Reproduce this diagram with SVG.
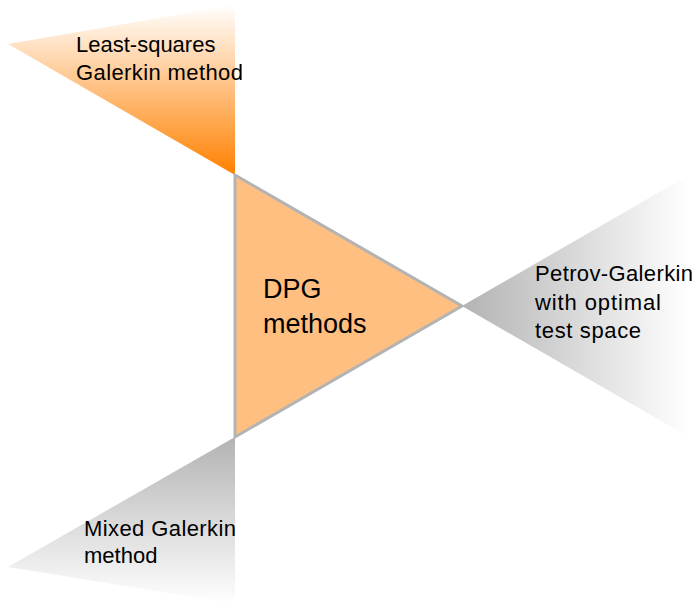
<svg xmlns="http://www.w3.org/2000/svg" width="696" height="602" viewBox="0 0 696 602">
  <defs>
    <linearGradient id="fadeOrangeUp" gradientUnits="userSpaceOnUse" x1="0" y1="175" x2="0" y2="5">
      <stop offset="0" stop-color="#ff8000"/>
      <stop offset="1" stop-color="#ffffff"/>
    </linearGradient>
    <linearGradient id="fadeGrayRight" gradientUnits="userSpaceOnUse" x1="462" y1="0" x2="689" y2="0">
      <stop offset="0" stop-color="#b3b3b3"/>
      <stop offset="1" stop-color="#ffffff"/>
    </linearGradient>
    <linearGradient id="fadeGrayDown" gradientUnits="userSpaceOnUse" x1="0" y1="437" x2="0" y2="604">
      <stop offset="0" stop-color="#b3b3b3"/>
      <stop offset="1" stop-color="#ffffff"/>
    </linearGradient>
  </defs>
  <style>
    text { font-family: "Liberation Sans", Arial, sans-serif; fill: #000000; }
    .lbl { font-size: 22px; }
    .main { font-size: 27px; }
    .core { fill: #ffbf80; stroke: #b3b3b3; stroke-width: 3; stroke-linejoin: miter; }
  </style>

  <rect width="696" height="602" fill="#ffffff"/>

  <g id="least-squares">
    <polygon points="8,44 235,5 235,175" fill="url(#fadeOrangeUp)"/>
    <text class="lbl" x="76" y="52">Least-squares</text>
    <text class="lbl" x="76" y="80" textLength="167" lengthAdjust="spacing">Galerkin method</text>
  </g>

  <g id="petrov-galerkin">
    <polygon points="462,306 689,175 689,437" fill="url(#fadeGrayRight)"/>
    <text class="lbl" x="535" y="281" textLength="158" lengthAdjust="spacing">Petrov-Galerkin</text>
    <text class="lbl" x="535" y="309.5" textLength="126" lengthAdjust="spacing">with optimal</text>
    <text class="lbl" x="535" y="338" textLength="106" lengthAdjust="spacing">test space</text>
  </g>

  <g id="mixed-galerkin">
    <polygon points="235,437 8,567 235,604" fill="url(#fadeGrayDown)"/>
    <text class="lbl" x="84" y="536" textLength="152" lengthAdjust="spacing">Mixed Galerkin</text>
    <text class="lbl" x="84" y="563">method</text>
  </g>

  <g id="dpg">
    <polygon class="core" points="235,175 235,437 462,306"/>
    <text class="main" x="263" y="298">DPG</text>
    <text class="main" x="263" y="333">methods</text>
  </g>

  <g id="connectors"></g>
</svg>
